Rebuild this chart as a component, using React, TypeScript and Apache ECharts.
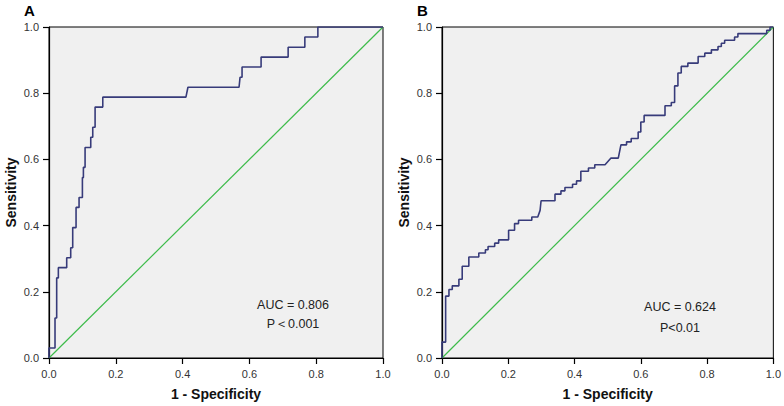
import React, { useEffect, useRef } from "react";
import * as echarts from "echarts";

// Panel A ROC curve vertices (1 - specificity, sensitivity)
const rocA_fpr = [0, 0, 0.018, 0.018, 0.023, 0.023, 0.028, 0.028, 0.053, 0.053, 0.065, 0.065, 0.071, 0.071, 0.081, 0.081, 0.09, 0.09, 0.1, 0.1, 0.103, 0.103, 0.108, 0.108, 0.125, 0.125, 0.131, 0.131, 0.138, 0.138, 0.161, 0.161, 0.41, 0.416, 0.569, 0.572, 0.578, 0.578, 0.635, 0.635, 0.716, 0.716, 0.766, 0.766, 0.805, 0.805, 1.0];
const rocA_tpr = [0, 0.03, 0.03, 0.121, 0.121, 0.242, 0.242, 0.273, 0.273, 0.303, 0.303, 0.333, 0.333, 0.394, 0.394, 0.455, 0.455, 0.485, 0.485, 0.545, 0.545, 0.576, 0.576, 0.636, 0.636, 0.667, 0.667, 0.697, 0.697, 0.758, 0.758, 0.788, 0.788, 0.818, 0.818, 0.848, 0.848, 0.879, 0.879, 0.909, 0.909, 0.939, 0.939, 0.97, 0.97, 1.0, 1.0];

// Panel B ROC curve vertices
const rocB_fpr = [0, 0, 0.011, 0.011, 0.021, 0.021, 0.031, 0.031, 0.051, 0.051, 0.061, 0.061, 0.081, 0.081, 0.111, 0.111, 0.131, 0.131, 0.139, 0.139, 0.159, 0.159, 0.171, 0.171, 0.201, 0.201, 0.219, 0.219, 0.231, 0.231, 0.271, 0.271, 0.289, 0.296, 0.299, 0.341, 0.341, 0.359, 0.359, 0.371, 0.371, 0.394, 0.394, 0.406, 0.406, 0.419, 0.419, 0.442, 0.442, 0.461, 0.461, 0.492, 0.51, 0.532, 0.54, 0.557, 0.557, 0.571, 0.571, 0.592, 0.592, 0.6, 0.6, 0.61, 0.61, 0.673, 0.673, 0.692, 0.692, 0.702, 0.702, 0.712, 0.712, 0.722, 0.722, 0.742, 0.742, 0.773, 0.773, 0.793, 0.793, 0.813, 0.813, 0.833, 0.833, 0.843, 0.843, 0.853, 0.853, 0.883, 0.883, 0.893, 0.893, 0.98, 0.98, 0.99, 0.99, 1.0];
const rocB_tpr = [0, 0.048, 0.048, 0.187, 0.187, 0.207, 0.207, 0.218, 0.218, 0.238, 0.238, 0.277, 0.277, 0.305, 0.305, 0.317, 0.317, 0.327, 0.327, 0.337, 0.337, 0.347, 0.347, 0.357, 0.357, 0.386, 0.386, 0.406, 0.406, 0.416, 0.416, 0.426, 0.426, 0.446, 0.475, 0.475, 0.495, 0.495, 0.505, 0.505, 0.515, 0.515, 0.525, 0.525, 0.535, 0.535, 0.564, 0.564, 0.574, 0.574, 0.584, 0.584, 0.604, 0.604, 0.644, 0.644, 0.653, 0.653, 0.663, 0.663, 0.683, 0.683, 0.713, 0.713, 0.733, 0.733, 0.762, 0.762, 0.772, 0.772, 0.822, 0.822, 0.861, 0.861, 0.881, 0.881, 0.891, 0.891, 0.911, 0.911, 0.921, 0.921, 0.931, 0.931, 0.941, 0.941, 0.951, 0.951, 0.96, 0.96, 0.97, 0.97, 0.98, 0.98, 0.99, 0.99, 1.0, 1.0];

const diagonal = [[0, 0], [1, 1]];
const panelLabels = ["A", "B"];
const aucTexts = ["AUC = 0.806", "AUC = 0.624"];
const pTexts = ["P\uFF1C0.001", "P<0.01"];
const xTitle = "1 - Specificity";
const yTitle = "Sensitivity";

const FONT = "'Liberation Sans', Arial, sans-serif";

function zip(xs: number[], ys: number[]) {
  return xs.map((x, i) => [x, ys[i]]);
}

export default function App() {
  const ref = useRef<HTMLDivElement>(null);
  useEffect(() => {
    if (!ref.current) return;
    const chart = echarts.init(ref.current, undefined, { renderer: "svg" });
    const grids = [
      { left: 49, top: 27, width: 334, height: 333 },
      { left: 442, top: 27, width: 333, height: 333 },
    ];
    const axisCommon = {
      type: "value" as const,
      min: 0,
      max: 1,
      interval: 0.2,
      splitLine: { show: false },
      axisLine: { show: true, lineStyle: { color: "#000", width: 1.2 } },
      axisTick: { show: true, inside: false, length: 6, lineStyle: { color: "#000", width: 1.2 } },
      axisLabel: {
        color: "#333",
        fontSize: 11,
        fontFamily: FONT,
        margin: 10,
        formatter: (v: number) => v.toFixed(1),
      },
      nameTextStyle: { fontSize: 14, fontWeight: "bold" as const, color: "#111", fontFamily: FONT },
      nameLocation: "middle" as const,
    };
    const textStyle = { fontSize: 12.5, fill: "#222", fontFamily: FONT, align: "center", verticalAlign: "middle" };
    const option: any = {
      animation: false,
      grid: grids.map((g) => ({
        ...g,
        show: true,
        backgroundColor: "#f0f0f0",
        borderColor: "#000",
        borderWidth: 1,
      })),
      xAxis: [0, 1].map((i) => ({
        ...axisCommon,
        gridIndex: i,
        name: xTitle,
        nameGap: 29,
      })),
      yAxis: [0, 1].map((i) => ({
        ...axisCommon,
        gridIndex: i,
        name: yTitle,
        nameGap: 31,
      })),
      series: [
        {
          type: "line",
          xAxisIndex: 0,
          yAxisIndex: 0,
          data: diagonal,
          symbol: "none",
          lineStyle: { color: "#3dbb4a", width: 1.2 },
          z: 2,
        },
        {
          type: "line",
          xAxisIndex: 0,
          yAxisIndex: 0,
          data: zip(rocA_fpr, rocA_tpr),
          symbol: "none",
          lineStyle: { color: "#373b7a", width: 1.6 },
          z: 3,
        },
        {
          type: "line",
          xAxisIndex: 1,
          yAxisIndex: 1,
          data: diagonal,
          symbol: "none",
          lineStyle: { color: "#3dbb4a", width: 1.2 },
          z: 2,
        },
        {
          type: "line",
          xAxisIndex: 1,
          yAxisIndex: 1,
          data: zip(rocB_fpr, rocB_tpr),
          symbol: "none",
          lineStyle: { color: "#373b7a", width: 1.6 },
          z: 3,
        },
      ],
      graphic: [
        { type: "text", left: 24, top: 3, style: { text: panelLabels[0], fontSize: 15, fontWeight: "bold", fill: "#000", fontFamily: FONT } },
        { type: "text", left: 417, top: 3, style: { text: panelLabels[1], fontSize: 15, fontWeight: "bold", fill: "#000", fontFamily: FONT } },
        { type: "text", x: 293, y: 305, style: { ...textStyle, text: aucTexts[0] } },
        { type: "text", x: 293, y: 324, style: { ...textStyle, text: pTexts[0] } },
        { type: "text", x: 680, y: 307, style: { ...textStyle, text: aucTexts[1] } },
        { type: "text", x: 680, y: 328, style: { ...textStyle, text: pTexts[1] } },
      ],
    };
    chart.setOption(option);
    return () => chart.dispose();
  }, []);
  return (
    <div
      ref={ref}
      style={{ position: "absolute", left: 0, top: 0, width: 784, height: 406, background: "#fff" }}
    />
  );
}
